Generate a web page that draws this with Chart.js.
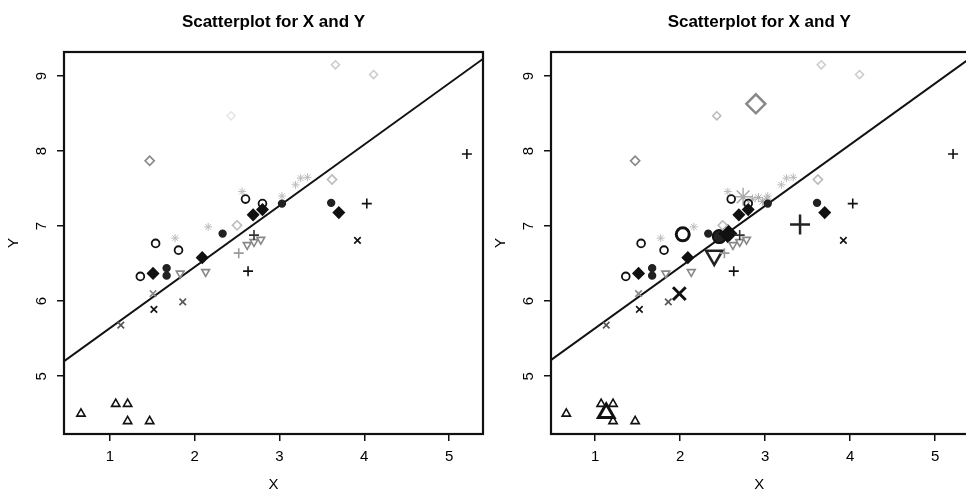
<!DOCTYPE html>
<html>
<head>
<meta charset="utf-8">
<script src="https://cdn.jsdelivr.net/npm/chart.js@4"></script>
<style>
  html, body { margin: 0; padding: 0; background: #fff; overflow: hidden; width: 966px; height: 490px; }
  #c1 { position: absolute; left: 0; top: 0; }
  #c2 { position: absolute; left: 480px; top: 0; }
</style>
</head>
<body>
<canvas id="c1" width="490" height="490"></canvas>
<canvas id="c2" width="500" height="490"></canvas>
<script>
// data
const xTicks = [1, 2, 3, 4, 5];
const yTicks = [5, 6, 7, 8, 9];

const triX = [0.66, 1.07, 1.21, 1.21, 1.47];
const triY = [4.50, 4.63, 4.63, 4.40, 4.40];
const circX = [1.36, 1.54, 1.81, 2.60, 2.80];
const circY = [6.33, 6.77, 6.68, 7.36, 7.30];
const diaX = [1.51, 2.09, 2.69, 2.80, 3.70];
const diaY = [6.37, 6.58, 7.15, 7.22, 7.18];
const dotX = [1.67, 1.67, 2.33, 3.03, 3.61];
const dotY = [6.44, 6.34, 6.90, 7.30, 7.31];
const crossX = [1.13, 1.52, 1.51, 1.86, 3.92];
const crossY = [5.68, 5.89, 6.10, 5.99, 6.81];
const plusX = [2.63, 2.52, 4.03, 5.21, 2.70];
const plusY = [6.40, 6.64, 7.30, 7.96, 6.88];
const downX = [1.83, 2.13, 2.62, 2.70, 2.78];
const downY = [6.37, 6.39, 6.75, 6.79, 6.82];
const openDiaX = [1.47, 2.50, 3.62];
const openDiaY = [7.87, 7.01, 7.62];
const paleX = [2.43, 3.66, 4.11];
const paleY = [8.47, 9.15, 9.02];
const starX = [1.77, 2.16, 2.56, 3.19, 3.25, 3.33, 3.03];
const starY = [6.84, 6.99, 7.46, 7.55, 7.64, 7.65, 7.40];
// only visible in the right panel
const extraX = [2.85, 2.92, 2.97, 3.02];
const extraY = [7.36, 7.38, 7.33, 7.36];
// enlarged group points in the right panel
// order: triangle, circle, diamond, dot, cross, plus, down triangle, open diamond, star
const meanX = [1.13, 2.03, 2.56, 2.46, 1.99, 3.41, 2.40, 2.89, 2.74];
const meanY = [4.51, 6.89, 6.90, 6.86, 6.10, 7.02, 6.61, 8.63, 7.39];
// fitted line, end points
const lineX = [0.40, 5.50];
const lineY = [5.15, 9.31];

const titleText = "Scatterplot for X and Y";
const FONT = "'Liberation Sans', Arial, sans-serif";

function pts(xs, ys) {
  return xs.map((x, i) => ({ x: x, y: ys[i] }));
}

function ds(data, style, color, radius, opts) {
  return Object.assign({
    data: data,
    pointStyle: style,
    pointRadius: radius,
    pointHoverRadius: radius,
    pointBorderColor: color,
    pointBackgroundColor: "rgba(0,0,0,0)",
    pointBorderWidth: 1.6,
    showLine: false,
    order: 1
  }, opts || {});
}

function baseSets(rightSide) {
  const sets = [
    ds(pts(triX, triY), "triangle", "#111", 4.8),
    ds(pts(circX, circY), "circle", "#111", 3.9, { pointBorderWidth: 1.8 }),
    ds(pts(diaX, diaY), "rectRot", "#111", 5.4, { pointBackgroundColor: "#111" }),
    ds(pts(dotX, dotY), "circle", "#222", 3.4, { pointBackgroundColor: "#222" }),
    ds(pts(crossX, crossY), "crossRot", ["#555", "#111", "#888", "#555", "#111"], 4.6),
    ds(pts(plusX, plusY), "cross", ["#111", "#999", "#111", "#111", "#333"], 5),
    ds(pts(downX, downY), "triangle", "#888", 4.5, { rotation: 180 }),
    ds(pts(openDiaX, openDiaY), "rectRot", ["#888", "#bbb", "#bbb"], 4.6),
    ds(pts(paleX, paleY), "rectRot", rightSide ? ["#bbb", "#ccc", "#ccc"] : ["#e6e6e6", "#ccc", "#ccc"], 4),
    ds(pts(starX, starY), "star", "#bbb", 4, { pointBorderWidth: 1 })
  ];
  if (rightSide) {
    sets.push(ds(pts(extraX, extraY), "star", "#aaa", 4.5, { pointBorderWidth: 1 }));
    const mp = pts(meanX, meanY);
    sets.push(ds([mp[0]], "triangle", "#111", 9, { pointBorderWidth: 3 }));
    sets.push(ds([mp[1]], "circle", "#111", 6.5, { pointBorderWidth: 3 }));
    sets.push(ds([mp[2]], "rectRot", "#111", 8.5, { pointBackgroundColor: "#111" }));
    sets.push(ds([mp[3]], "circle", "#111", 6.5, { pointBackgroundColor: "#222", pointBorderWidth: 2 }));
    sets.push(ds([mp[4]], "crossRot", "#111", 9, { pointBorderWidth: 3 }));
    sets.push(ds([mp[5]], "cross", "#222", 10, { pointBorderWidth: 2.5 }));
    sets.push(ds([mp[6]], "triangle", "#222", 9.5, { rotation: 180, pointBorderWidth: 2.5 }));
    sets.push(ds([mp[7]], "rectRot", "#888", 9.5, { pointBorderWidth: 2.5 }));
    sets.push(ds([mp[8]], "star", "#aaa", 9, { pointBorderWidth: 1.5 }));
  }
  sets.push({
    data: pts(lineX, lineY),
    showLine: true,
    borderColor: "#111",
    borderWidth: 2,
    pointRadius: 0,
    order: 10
  });
  return sets;
}

const decorations = {
  id: "decorations",
  afterDraw(chart) {
    const ctx = chart.ctx;
    const a = chart.chartArea;
    const xs = chart.scales.x;
    const ys = chart.scales.y;
    const cx = (a.left + a.right) / 2;
    ctx.save();
    ctx.strokeStyle = "#111";
    ctx.lineWidth = 2.2;
    ctx.strokeRect(a.left, a.top, a.right - a.left, a.bottom - a.top);

    ctx.fillStyle = "#000";
    ctx.textAlign = "center";
    ctx.textBaseline = "middle";
    ctx.font = "15px " + FONT;
    xTicks.forEach(v => {
      ctx.fillText(String(v), xs.getPixelForValue(v), a.bottom + 23);
    });
    yTicks.forEach(v => {
      ctx.save();
      ctx.translate(a.left - 22.5, ys.getPixelForValue(v));
      ctx.rotate(-Math.PI / 2);
      ctx.fillText(String(v), 0, 0);
      ctx.restore();
    });
    ctx.fillText("X", cx, a.bottom + 51);
    ctx.save();
    ctx.translate(a.left - 50, (a.top + a.bottom) / 2);
    ctx.rotate(-Math.PI / 2);
    ctx.fillText("Y", 0, 0);
    ctx.restore();

    ctx.font = "bold 17px " + FONT;
    ctx.fillText(titleText, cx, 22);
    ctx.restore();
  }
};

function makePanel(id, xMin, xMax, yWidth, padRight, rightSide) {
  return new Chart(document.getElementById(id), {
    type: "scatter",
    data: { datasets: baseSets(rightSide) },
    plugins: [decorations],
    options: {
      responsive: false,
      animation: false,
      events: [],
      layout: { padding: { top: 52, right: padRight, left: 0, bottom: 0 } },
      plugins: { legend: { display: false }, tooltip: { enabled: false } },
      scales: {
        x: {
          type: "linear",
          min: xMin,
          max: xMax,
          afterBuildTicks: s => { s.ticks = xTicks.map(v => ({ value: v })); },
          afterFit: s => { s.height = 56; },
          ticks: { display: false },
          border: { display: false },
          grid: { drawOnChartArea: false, drawTicks: true, tickLength: 7, color: "#111", lineWidth: 1.5 }
        },
        y: {
          type: "linear",
          min: 4.23,
          max: 9.32,
          afterBuildTicks: s => { s.ticks = yTicks.map(v => ({ value: v })); },
          afterFit: s => { s.width = yWidth; },
          ticks: { display: false },
          border: { display: false },
          grid: { drawOnChartArea: false, drawTicks: true, tickLength: 7, color: "#111", lineWidth: 1.5 }
        }
      }
    }
  });
}

makePanel("c1", 0.46, 5.40, 64, 5, false);
makePanel("c2", 0.48, 5.38, 71, 8, true);
</script>
</body>
</html>
